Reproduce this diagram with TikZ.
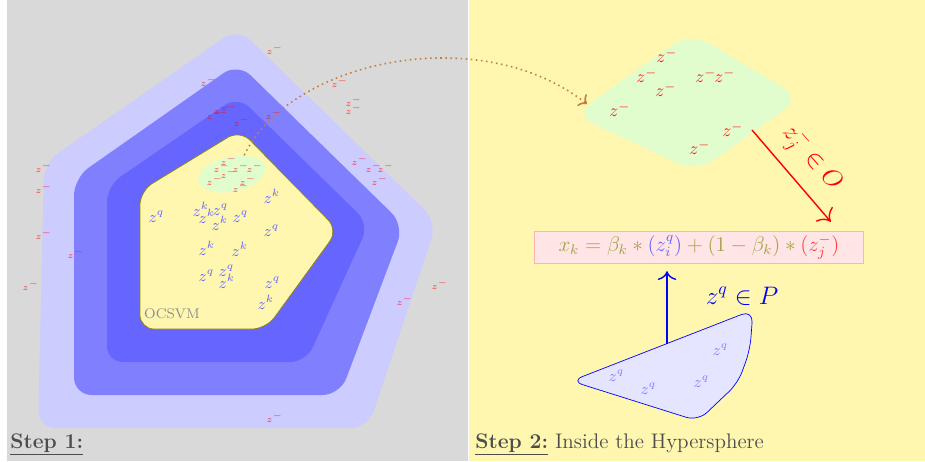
\documentclass[tikz,border=0pt]{standalone}
\usepackage{tikz}
\usetikzlibrary{calc,arrows.meta,positioning,shapes.geometric}
\definecolor{paleyellow}{RGB}{255,246,176}
\definecolor{palegreen}{RGB}{225,252,205}
\definecolor{formulagold}{RGB}{168,158,72}

\begin{document}
\begin{tikzpicture}[x=0.02cm,y=-0.02cm]
  \tikzset{
    zneg/.style={text=red, text opacity=0.75, font=\tiny, anchor=base west, xshift=-0.04cm, yshift=-0.04cm, inner sep=0pt},
    zout/.style={text=red!90, font=\normalsize, anchor=base west, xshift=-0.08cm, yshift=-0.075cm, inner sep=0pt},
    zin/.style={text=blue!60, font=\small, anchor=base west, xshift=-0.075cm, yshift=-0.07cm, inner sep=0pt},
    zpos/.style={text=blue!50, font=\small, anchor=base west, xshift=-0.075cm, yshift=-0.07cm, inner sep=0pt},
    steplabel/.style={anchor=base west, text=black!70, font=\large, inner sep=0pt}
  }

  % Panels
  \useasboundingbox (0,0) rectangle (925,461);
  \fill[black!15] (7,0) rectangle (468,461);
  \fill[paleyellow] (469,0) rectangle (925,461);

  % Step 1: nested hyperspheres
  \fill[blue!20, rounded corners=10pt] (238,28) -- (437,222) -- (368,428) -- (38,428) -- (44,163) -- cycle;
  \fill[blue!50, rounded corners=10pt] (238,63) -- (404,225) -- (340,395) -- (74,395) -- (74,178) -- cycle;
  \fill[blue!60, rounded corners=9pt] (238,96) -- (369,224) -- (306,362) -- (107,362) -- (107,186) -- cycle;
  \draw[olive, fill=paleyellow, rounded corners=8pt] (240,130) -- (338,230) -- (266,329) -- (140,329) -- (140,191) -- cycle;
  \node[font=\footnotesize, text=black!45] (ocsvm) at (172,314) {OCSVM};

  \node[ellipse, fill=palegreen, minimum width=1.36cm, minimum height=0.7cm, rotate=12] (nblob) at (232,174) {};

  % outliers z^-
  \foreach \x/\y [count=\i] in {268/52, 202/84, 208/117, 215/112, 222/111, 235/124, 267/117,
      333/85, 347/104, 347/112, 353/163, 367/170, 379/170, 373/183,
      37/170, 37/191, 37/237, 69/256, 24/288, 398/303, 433/287, 268/420,
      222/163, 215/170, 234/170, 248/170, 222/176, 208/183, 241/183, 234/190}
    \node[zneg, name=zn\i] at (\x,\y) {$z^-$};

  % inliers z^k, z^q
  \foreach \x/\y/\s [count=\i] in {152/219/q, 196/213/k, 202/220/k, 216/212/q, 215/227/k,
      236/219/q, 267/200/k, 267/233/q, 202/252/k, 235/253/k, 202/278/q,
      222/273/q, 222/285/k, 268/285/q, 261/306/k}
    \node[zin, name=zi\i] at (\x,\y) {$z^{\s}$};

  % Step 2
  \fill[palegreen, rounded corners=12pt] (690,32) -- (801,98) -- (697,172) -- (574,115) -- cycle;
  \coordinate (gin) at (587,104);
  \coordinate (gout) at (752,130);

  \foreach \x/\y [count=\i] in {660/59, 640/79, 699/79, 718/79, 659/93, 613/113, 726/133, 693/151}
    \node[zout, name=zo\i] at (\x,\y) {$z^-$};

  \node[draw=red!30, fill=red!10, minimum width=6.58cm, minimum height=0.6cm, inner sep=2pt,
        font=\large, text=formulagold] (frm) at (699,247)
    {$x_k = \beta_k * {\color{blue!60}(z_i^q)} + (1-\beta_k) * {\color{red!75}(z_j^-)}$};

  \draw[blue, fill=blue!10, rounded corners=7pt] (571,381) -- (753,310) -- (750,350) -- (738,383) -- (698,421) -- cycle;
  \coordinate (qtop) at (667,344);
  \foreach \x/\y [count=\i] in {612/378, 644/391, 697/384, 716/352}
    \node[zpos, name=zp\i] at (\x,\y) {$z^q$};

  % connectors
  \draw[brown, dotted, line width=0.9pt, -{To[length=4pt]}] (nblob.45) .. controls (290,60) and (480,20) .. (gin);
  \draw[red, thick, -{To[length=6pt]}] (gout) -- ($(frm.north east)+(-33,-9)$)
    node[midway, sloped, above=3pt, font=\Large, text=red] (olab) {$z_j^- \in O$};
  \draw[blue, thick, -{To[length=5pt]}, shorten >=4.5pt] (qtop) -- (qtop |- frm.south);
  \node[font=\Large, text=blue] (plab) at (742,296) {$z^q \in P$};

  \node[steplabel] (step1) at (10,448) {\underline{\textbf{Step 1:}}};
  \node[steplabel] (step2) at (475,448) {\underline{\textbf{Step 2:}} Inside the Hypersphere};
\end{tikzpicture}
\end{document}
